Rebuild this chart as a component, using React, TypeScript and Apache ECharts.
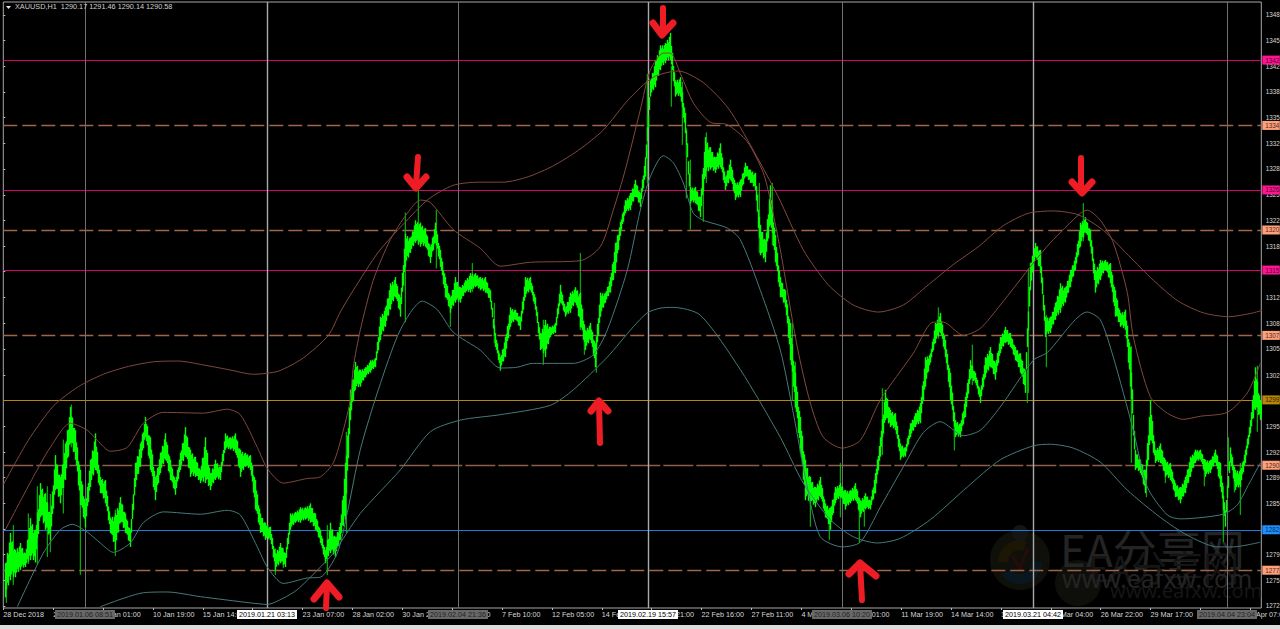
import React, { useEffect, useRef } from "react";
import * as echarts from "echarts";

const PRICE_BASE = 1270;
const FONT = "'Liberation Sans', Arial, sans-serif";
const TITLE = "XAUUSD,H1  1290.17 1291.46 1290.14 1290.58";

// Y axis ticks (price)
const yTicks = [1272.6,1275.9,1279.2,1282.5,1285.8,1289.1,1292.4,1295.7,1299.04,1302.3,1305.65,1308.96,1312.26,1315.6,1318.87,1322.2,1325.48,1328.8,1332.09,1335.4,1338.7,1342.0,1345.3,1348.6];

// X axis tick labels
const tickStep = 49.88;
const tickLabels = ["28 Dec 2018","2 Jan 06:00","7 Jan 01:00","10 Jan 19:00","15 Jan 14:00","18 Jan 09:00","23 Jan 07:00","28 Jan 02:00","30 Jan 21:00","4 Feb 15:00","7 Feb 10:00","12 Feb 05:00","14 Feb 23:00","19 Feb 21:00","22 Feb 16:00","27 Feb 11:00","4 Mar 06:00","7 Mar 01:00","11 Mar 19:00","14 Mar 14:00","19 Mar 09:00","22 Mar 04:00","26 Mar 22:00","29 Mar 17:00","3 Apr 12:00","5 Apr 07:00"];

// Price bodies, as price minus PRICE_BASE, one per 5 chart units
const bodyHigh = [
8.1,12.0,9.8,10.7,9.4,13.9,12.4,18.4,17.1,14.5,
22.0,19.2,23.5,28.2,25.2,20.1,15.8,21.4,24.8,19.2,
18.8,14.0,14.5,16.6,14.5,12.4,21.0,23.5,26.9,24.3,
19.2,22.3,24.8,21.4,18.8,22.3,25.6,22.7,21.8,20.1,
24.3,19.7,21.4,20.5,24.8,24.3,24.8,22.7,22.3,22.0,
18.8,14.5,13.3,12.8,9.4,10.7,9.4,14.5,14.7,15.3,
15.3,15.8,14.5,12.4,9.8,13.3,11.5,13.3,21.0,30.4,
34.0,33.0,33.3,34.2,34.5,39.8,41.0,44.1,44.9,42.3,
50.5,50.0,52.2,51.9,51.2,48.8,51.9,48.4,44.9,42.3,
44.9,43.6,44.5,45.4,45.4,44.9,44.9,43.2,37.7,34.6,
37.2,41.0,40.7,39.8,44.9,44.9,42.3,37.7,39.4,38.5,
39.0,43.9,41.0,42.9,43.6,42.9,38.1,39.0,36.4,42.9,
42.9,44.9,49.3,52.0,54.8,55.7,57.4,55.7,60.3,70.2,
72.8,74.7,75.0,76.3,70.2,70.6,66.0,56.5,56.5,55.2,
62.9,61.6,60.3,62.1,57.8,60.0,57.0,57.4,59.6,58.7,
58.3,51.6,49.7,56.7,50.3,44.9,43.2,39.0,32.6,26.9,
21.4,19.2,17.9,19.2,15.8,15.3,17.9,18.4,17.5,17.5,
18.4,16.2,17.1,16.2,19.7,24.3,30.4,27.8,27.4,23.5,
23.0,26.1,27.4,28.7,34.6,35.1,39.0,40.3,36.8,32.6,
26.5,26.1,29.5,34.2,32.6,30.4,34.6,35.9,33.9,37.2,
38.5,37.7,35.9,35.1,32.9,46.7,49.3,48.4,39.8,39.8,
41.6,44.1,43.6,45.8,47.5,51.9,52.6,51.0,45.8,47.1,
47.1,46.7,43.2,40.3,40.7,35.9,22.7,21.4,20.1,29.1,
22.7,23.5,21.4,21.0,18.4,17.9,19.2,21.8,22.7,22.7,
21.4,21.4,22.7,21.0,14.9,23.0,20.1,20.1,22.7,26.5,
33.3,29.1];
const bodyLow = [
3.7,5.9,6.3,7.2,7.6,8.5,8.2,14.0,12.4,11.1,
17.5,15.8,18.8,23.5,21.4,15.6,12.7,17.9,20.1,17.1,
15.8,12.0,9.8,13.3,12.0,10.2,17.9,20.5,24.3,20.1,
16.2,19.7,21.4,18.8,16.9,20.1,21.8,19.2,19.2,18.4,
18.4,17.5,18.8,18.8,22.7,22.7,22.3,19.2,20.5,20.1,
15.0,12.0,11.1,11.1,7.2,8.1,7.6,12.4,13.3,13.3,
13.7,13.3,12.4,10.7,8.1,9.4,8.9,11.1,13.7,26.5,
30.4,30.8,32.0,32.6,33.3,36.8,38.5,40.7,42.3,39.8,
46.2,48.0,49.3,48.8,48.8,46.7,49.3,46.2,42.3,40.3,
41.6,41.6,42.9,42.9,43.6,43.2,42.9,41.7,35.9,33.0,
34.6,38.5,39.4,38.1,42.3,43.2,40.7,35.5,34.6,37.2,
37.7,41.6,39.8,40.3,41.6,38.5,35.5,36.8,33.3,39.8,
41.6,42.9,45.4,50.2,53.1,53.5,55.2,53.9,57.8,68.1,
69.3,71.5,72.4,72.8,68.1,68.1,63.4,54.4,54.4,52.6,
57.8,58.7,58.3,59.0,56.1,57.4,54.8,55.2,57.8,57.0,
56.1,47.7,46.8,51.6,46.8,42.3,41.0,34.2,28.2,22.3,
16.2,15.8,15.3,16.6,14.0,12.4,15.8,16.6,15.0,15.8,
16.2,14.0,15.0,15.0,17.1,21.8,26.5,25.6,25.2,21.4,
21.8,24.3,25.6,26.1,30.8,33.9,36.4,37.7,34.6,29.1,
24.3,24.3,26.9,31.7,31.3,28.7,32.0,33.3,31.7,35.1,
36.4,35.9,34.2,32.6,30.0,43.2,47.5,45.4,37.2,37.7,
39.4,40.3,41.6,43.6,45.8,48.8,50.6,48.8,42.9,44.5,
45.8,44.1,39.8,38.5,38.1,30.8,20.1,19.7,17.1,23.9,
21.0,21.0,19.2,18.8,16.6,15.8,17.1,19.2,21.0,21.4,
19.2,19.7,21.0,17.9,12.8,21.0,17.5,17.9,21.0,24.8,
27.8,26.5];

// Thin wicks: [chart x, high, low], price minus PRICE_BASE
const wicks = [
[3,8.1,3.0],[10,13,5.3],[25,14.5,8],[34,18,8],[44,18,8.9],[47,17,9.5],[60,24,14.5],[68,28.5,23],[77,20,6.6],[112,15,9],
[272,10,6.6],[280,10,7.5],[324,13,6.6],[343,25,12],[402,53.2,39.1],[415,56.2,49],[433,53.5,46],[447,42,38.5],[469,46.7,43],[491,41.6,36.4],
[497,34.6,32.8],[540,39.4,33.6],[577,48,38.1],[581,38,34.9],[593,36,32.6],[644,71,57],[668,72,66.8],[679,70,61.9],[683,64,55],[687,60,51],
[700,57,52],[703,63.5,57],[756,57,48],[769,57,49],[789,39,29],[792,34,28],[807,19,12.8],[826,15,11.1],[837,21,14],[856,16,10.7],
[861,15,12.8],[879,30.6,22],[935,41,37],[951,27,22.6],[969,36.2,31],[1024,33,28.7],[1025,46,30],[1043,40,33.3],[1080,54.4,49.5],[1128,36,21],
[1143,20,16.6],[1162,21,18.4],[1201,21,18],[1220,18,10.8],[1225,24.3,20],[1231,20,17.2],[1237,21,14.3],[1254,33.5,25]];

// Envelope curves: [chart x, price minus PRICE_BASE]
const outerUpper = [[0,18.2],[25,23.9],[50,28.3],[75,30.8],[100,32.4],[125,33.4],[150,34],[175,34.1],[200,33.6],[225,33],[250,32.4],[275,32.8],[300,34.5],[325,37.4],[337,40.4],[350,43.2],[375,48.1],[400,51.7],[425,54.9],[450,56.7],[475,57.1],[500,57.1],[525,57.8],[550,59.2],[575,61.2],[600,63.8],[625,67.7],[650,70.6],[675,71.4],[700,69.9],[725,66.6],[750,61.2],[775,55.2],[800,48.4],[825,43.9],[850,41.3],[875,40.4],[900,41.3],[925,43.9],[950,46.5],[975,48.8],[1000,51.5],[1025,53.1],[1050,53.4],[1075,52.9],[1100,50.9],[1125,47.7],[1150,44.5],[1175,41.8],[1200,40.3],[1225,39.8],[1250,40.3],[1275,41.3]];
const innerUpper = [[2,12.4],[30,19.2],[47,23],[67,26.1],[84,25.2],[94,23.9],[107,22.5],[124,23],[140,26.1],[160,27.5],[200,27.4],[224,27.9],[237,27.2],[254,23],[264,20.3],[280,18.4],[304,19],[317,19.2],[330,21],[340,25.2],[347,29.1],[350,33.3],[357,38.1],[370,44.5],[387,49.7],[404,53.1],[417,54.8],[427,54.5],[450,51],[477,48.6],[497,46.3],[527,46.8],[577,47],[597,48.8],[610,53.5],[622,58.7],[637,66.4],[647,71.5],[660,73.7],[667,73.7],[677,71.1],[690,67.3],[707,64.8],[724,64.5],[744,62.3],[760,58.3],[767,54.8],[777,48.4],[794,35.9],[807,28.7],[820,24.3],[839,22.9],[857,23.9],[877,29.1],[910,35.1],[930,39.1],[940,39.1],[960,37.4],[977,38.3],[997,41.3],[1030,46.7],[1047,49.3],[1077,53.1],[1084,53.5],[1097,52.2],[1110,49.3],[1124,42.9],[1130,37.2],[1147,29.5],[1164,27.4],[1180,26.6],[1197,27],[1224,27.5],[1244,30],[1257,33.8]];
const innerLower = [[14,2.5],[40,9.4],[57,12.4],[69,13.1],[84,12.1],[97,10.7],[110,9.5],[127,10.7],[140,13.3],[160,14.7],[197,14.4],[224,14.9],[237,14.3],[254,10.2],[264,7.6],[280,5.5],[304,6.2],[317,6.3],[334,9.4],[344,14.6],[357,22.7],[375,30.4],[397,38.1],[419,41.8],[434,40.7],[450,37.8],[477,35.5],[497,33.2],[514,33.3],[529,33.8],[570,33.8],[590,34.9],[604,38.1],[624,45.8],[637,53.5],[647,57.8],[660,60.5],[670,59.6],[680,57],[690,53.1],[700,52.2],[724,51.2],[737,49.7],[757,43.2],[777,35.5],[790,27.4],[804,17.9],[817,11.5],[839,10.2],[857,10.8],[877,15.3],[900,20.5],[920,24.9],[937,26.3],[960,24.5],[977,25.2],[997,28.2],[1030,34.2],[1044,35.2],[1084,40.4],[1097,39.4],[1110,34.6],[1130,25.2],[1144,17.9],[1164,14.3],[1177,13.8],[1220,14.4],[1234,15.6],[1244,17.9],[1257,21]];
const outerLower = [[97,2.5],[140,4.3],[164,4.4],[197,3.8],[247,3],[264,2.8],[280,3.6],[294,4.7],[314,7.2],[330,9.4],[357,14.5],[397,20.1],[427,25],[457,26.5],[497,27.2],[547,28.4],[570,30.4],[604,34.6],[630,38.5],[644,40.3],[657,40.9],[670,41],[697,40],[737,33],[777,24.3],[800,18.4],[827,13.7],[850,11.5],[874,10.7],[897,11.3],[927,13.7],[964,17.9],[997,21.4],[1030,23.2],[1047,23.4],[1070,22.9],[1097,21.1],[1124,17.5],[1157,14],[1184,11.7],[1214,10.2],[1230,10.2],[1257,10.8]];

// Horizontal levels
const levelValues = [1342.8,1334.4,1326.1,1320.95,1315.8,1307.4,1299.1,1290.7,1282.4,1277.2];
const levelKinds = ["pink","sand","pink","sand","pink","sand","gold","brown","blue","sand"];
const levelStyle: Record<string, any> = {
  pink: { line: "#d6006f", type: "solid", width: 1, box: "#ff1493", text: "#4a0a2a" },
  sand: { line: "#a0654a", type: [14, 5], width: 1.4, box: "#ffa07a", text: "#4a2a1a" },
  gold: { line: "#b8860b", type: "solid", width: 1, box: "#b8860b", text: "#2a1c00" },
  brown: { line: "#8f5d4c", type: [30, 3], width: 1.4, box: "#ffa07a", text: "#4a2a1a" },
  blue: { line: "#1e7ddc", type: "solid", width: 1, box: "#1e90ff", text: "#06294d" },
};

// Vertical markers
const markerX = [81.7, 263.7, 454.7, 644.7, 838.7, 1029.7, 1223.7];
const markerText = ["2019.01.06 08:51","2019.01.21 03:13","2019.02.04 21:36","2019.02.19 15:57","2019.03.06 10:20","2019.03.21 04:42","2019.04.04 23:04"];
const markerBright = [false, true, false, true, false, true, false];

const shifted = (rows: number[][]) => rows.map(([x, v]) => [x, PRICE_BASE + v]);

const curve = (name: string, rows: number[][], color: string) => ({
  name, type: "line", data: shifted(rows), smooth: 0.25, showSymbol: false, symbol: "none", z: 6, silent: true,
  lineStyle: { color, width: 1 },
});

const bars = bodyHigh.map((h, i) => [1.7 + 5 * i, PRICE_BASE + bodyLow[i], PRICE_BASE + h]);
const wickRows = wicks.map(([x, h, l]) => [x, PRICE_BASE + l, PRICE_BASE + h]);

// One bar is painted as five hair-thin columns running towards the next bar, as a dense hourly chart looks.
const topTrim = [0, 0.14, 0.04, 0.22, 0.08];
const bottomTrim = [0, 0.12, 0.2, 0.04, 0.16];
const renderBody = (params: any, api: any) => {
  const i = params.dataIndex;
  const x = api.value(0);
  const a = api.coord([x, api.value(2)]);
  const b = api.coord([x, api.value(1)]);
  const next = bars[i + 1] ?? bars[i];
  const na = api.coord([next[0], next[2]]);
  const nb = api.coord([next[0], next[1]]);
  const children: any[] = [];
  for (let j = 0; j < 5; j++) {
    const t = j / 5;
    const top = a[1] + (na[1] - a[1]) * t;
    const bot = b[1] + (nb[1] - b[1]) * t;
    const h = bot - top;
    children.push({
      type: "rect",
      shape: { x: a[0] + j - 0.2, y: top + h * topTrim[j], width: 1.4, height: h * (1 - topTrim[j] - bottomTrim[j]) },
      style: { fill: "#00ff00" },
    });
  }
  return { type: "group", children };
};
const renderWick = (_: any, api: any) => {
  const x = api.value(0);
  const a = api.coord([x, api.value(2)]);
  const b = api.coord([x, api.value(1)]);
  return { type: "line", shape: { x1: a[0], y1: a[1], x2: b[0], y2: b[1] }, style: { stroke: "#00d800", lineWidth: 1 } };
};

const arrow = (shaft: number[][], head: number[][]) => [
  { type: "polyline", z: 50, silent: true, shape: { points: shaft }, style: { stroke: "#ee1c25", lineWidth: 6, fill: "none", lineCap: "round", lineJoin: "round" } },
  { type: "polyline", z: 50, silent: true, shape: { points: head }, style: { stroke: "#ee1c25", lineWidth: 7, fill: "none", lineCap: "round", lineJoin: "round" } },
];

const watermark = [
  { type: "circle", z: 0, silent: true, shape: { cx: 1020, cy: 560, r: 30 }, style: { fill: "#10100b" } },
  { type: "sector", z: 0, silent: true, shape: { cx: 1020, cy: 562, r: 22, r0: 12, startAngle: Math.PI, endAngle: Math.PI * 1.6 }, style: { fill: "#1c1705" } },
  { type: "sector", z: 0, silent: true, shape: { cx: 1020, cy: 562, r: 22, r0: 12, startAngle: 0, endAngle: Math.PI * 0.8 }, style: { fill: "#081720" } },
  { type: "circle", z: 0, silent: true, shape: { cx: 1020, cy: 533, r: 8 }, style: { fill: "#151515" } },
  { type: "polyline", z: 0, silent: true, shape: { points: [[1012, 556], [1020, 568], [1028, 548]] }, style: { stroke: "#260d0b", lineWidth: 3, fill: "none" } },
  { type: "circle", z: 0, silent: true, shape: { cx: 1078, cy: 583, r: 23 }, style: { fill: "#0e0e0b" } },
  { type: "text", z: 0, silent: true, x: 1060, y: 526, style: { text: "EA分享网", fill: "#242424", font: "44px 'Noto Sans CJK SC'" } },
  { type: "text", z: 0, silent: true, x: 1088, y: 548, style: { text: "EA分享网", fill: "#151515", font: "36px 'Noto Sans CJK SC'" } },
  { type: "text", z: 0, silent: true, x: 1062, y: 565, style: { text: "www.eafxw.com", fill: "#242424", font: "25px 'Noto Sans'" } },
  { type: "text", z: 0, silent: true, x: 1110, y: 580, style: { text: "www.eafxw.com", fill: "#161616", font: "20px 'Noto Sans'" } },
];

export default function App() {
  const ref = useRef<HTMLDivElement>(null);
  useEffect(() => {
    document.body.style.margin = "0";
    document.body.style.background = "#000";
    const chart = echarts.init(ref.current!, undefined, { renderer: "svg" });
    chart.setOption({
      animation: false,
      backgroundColor: "#000",
      title: { text: TITLE, left: 15, top: 3, padding: 0, textStyle: { color: "#d0d0d0", fontSize: 7.3, fontWeight: "normal", fontFamily: FONT } },
      grid: { show: true, left: 3.3, right: 18.7, top: 2, bottom: 21, outerBoundsMode: "none", containLabel: false, borderColor: "#a8a8a8", borderWidth: 1, backgroundColor: "transparent" },
      xAxis: {
        type: "value", min: 0, max: 1258, splitLine: { show: false },
        axisLine: { show: false },
        axisTick: { show: true, length: 2, lineStyle: { color: "#bbb" }, customValues: tickLabels.map((_, i) => i * tickStep) },
        axisLabel: {
          color: "#d8d8d8", fontSize: 7.2, fontFamily: FONT, align: "left", margin: 3,
          customValues: tickLabels.map((_, i) => i * tickStep),
          formatter: (v: number) => tickLabels[Math.round(v / tickStep)] ?? "",
        },
      },
      yAxis: {
        type: "value", position: "right", min: 1272.34, max: 1350.27, splitLine: { show: false },
        axisLine: { show: false },
        axisTick: { show: true, length: 2, lineStyle: { color: "#bbb" }, customValues: yTicks },
        axisLabel: {
          color: "#d8d8d8", fontSize: 6.3, fontFamily: FONT, margin: 4.5,
          customValues: yTicks,
          formatter: (v: number) => String(Math.floor(v)),
        },
      },
      series: [
        {
          name: "levels", type: "line", data: [], z: 2, silent: true,
          markLine: {
            silent: true, symbol: ["none", "none"], animation: false, z: 2,
            data: [
              ...levelValues.map((v, i) => {
                const s = levelStyle[levelKinds[i]];
                return {
                  yAxis: v,
                  lineStyle: { color: s.line, type: s.type, width: s.width },
                  label: {
                    show: true, position: "end", distance: 1, formatter: String(Math.floor(v)),
                    backgroundColor: s.box, color: s.text, fontSize: 6.3, fontFamily: FONT, padding: [1.5, 0.5, 1.5, 3],
                  },
                };
              }),
              ...markerX.map((x, i) => ({
                xAxis: x,
                lineStyle: { color: markerBright[i] ? "#aaaaaa" : "#707070", type: "solid", width: markerBright[i] ? 1.4 : 1 },
                label: {
                  show: true, position: "start", distance: 2, formatter: markerText[i],
                  backgroundColor: markerBright[i] ? "#ffffff" : "#686868",
                  color: markerBright[i] ? "#000" : "#222",
                  fontSize: 7.2, fontFamily: FONT, padding: [1, 2],
                },
              })),
            ],
          },
        },
        { name: "wicks", type: "custom", data: wickRows, renderItem: renderWick, encode: { x: 0, y: [1, 2] }, z: 3, silent: true, clip: true },
        { name: "bodies", type: "custom", data: bars, renderItem: renderBody, encode: { x: 0, y: [1, 2] }, z: 4, silent: true, clip: true },
        curve("outerUpper", outerUpper, "#80493f"),
        curve("innerUpper", innerUpper, "#80493f"),
        curve("innerLower", innerLower, "#477a7a"),
        curve("outerLower", outerLower, "#477a7a"),
      ],
      graphic: {
        elements: [
          ...watermark,
          { type: "polygon", z: 40, silent: true, shape: { points: [[6, 6], [11, 6], [8.5, 9]] }, style: { fill: "#e8e8e8" } },
          { type: "rect", z: 60, silent: true, shape: { x: 0, y: 625, width: 1280, height: 4 }, style: { fill: "#dcdcdc" } },
          ...arrow([[418, 157], [416, 185]], [[407, 177], [416, 188], [426, 177]]),
          ...arrow([[663, 8], [663, 32]], [[653, 23], [662, 35], [673, 23]]),
          ...arrow([[1081, 158], [1081, 190]], [[1072, 182], [1082, 193], [1092, 182]]),
          ...arrow([[327, 585], [326, 608]], [[314, 599], [327, 583], [339, 597]]),
          ...arrow([[599, 402], [600, 443]], [[591, 411], [599, 401], [608, 411]]),
          ...arrow([[860, 564], [862, 600]], [[849, 574], [860, 563], [876, 576]]),
        ],
      },
    });
    return () => chart.dispose();
  }, []);
  return <div ref={ref} style={{ width: 1280, height: 629 }} />;
}
